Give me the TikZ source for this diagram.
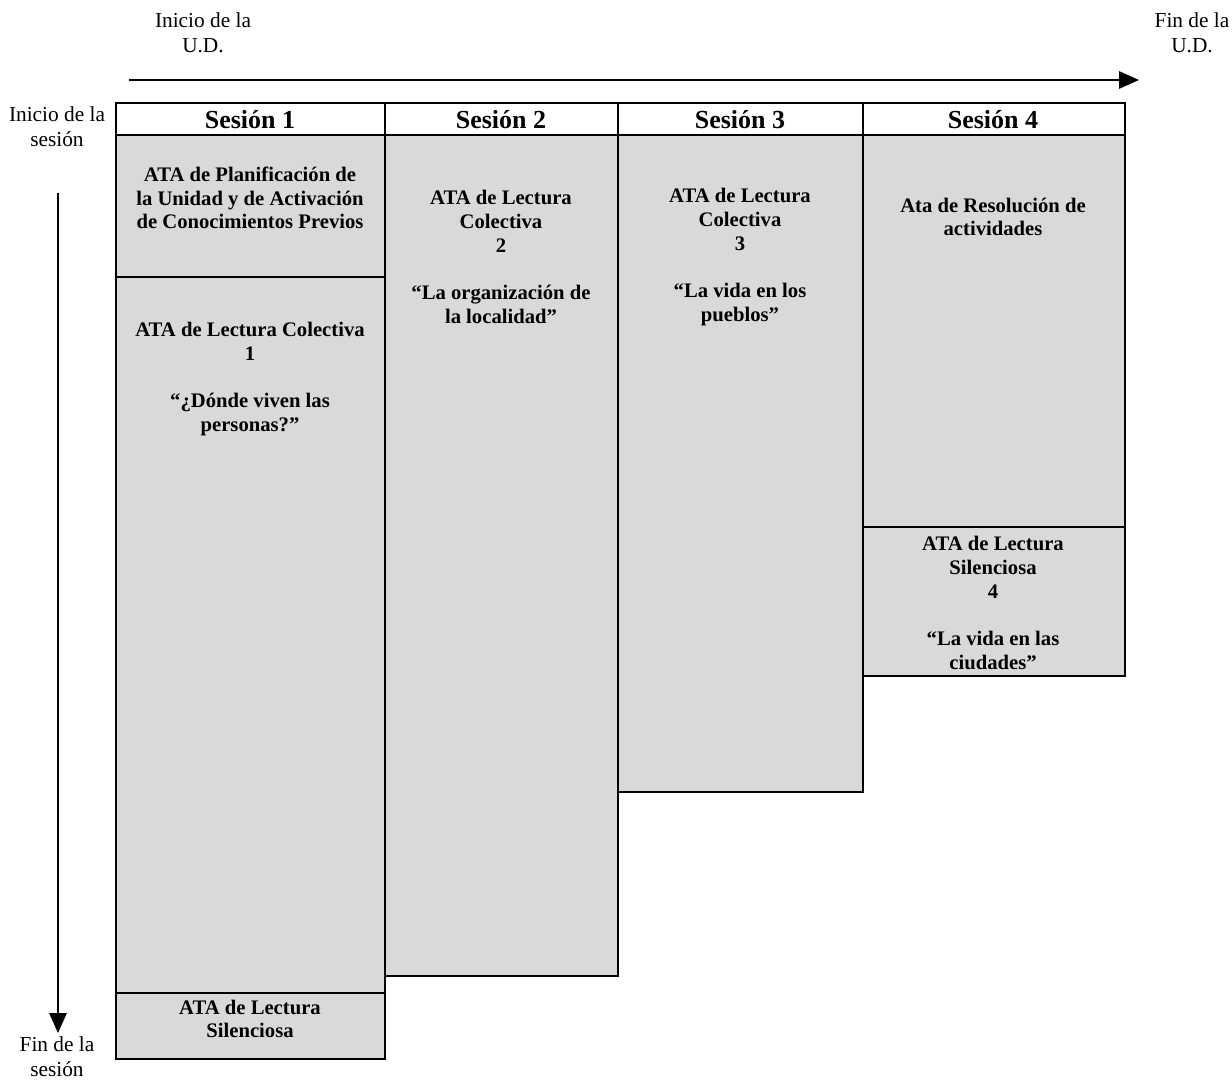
\documentclass[tikz,border=0pt]{standalone}
\usepackage{fontspec}
\setmainfont{Liberation Serif}
\usetikzlibrary{arrows.meta}
\tikzset{
  lbl/.style={align=center,font=\fontsize{16}{18.7}\selectfont,inner sep=0pt},
  hdr/.style={font=\fontsize{19.5}{22}\selectfont\bfseries,inner sep=0pt},
  ata/.style={align=center,font=\fontsize{15.5}{17.8}\selectfont\bfseries,inner sep=0pt},
  cell/.style={draw,line width=1.4pt,fill=gray!30},
  hcell/.style={draw,line width=1.4pt,fill=white},
  tl/.style={-{Triangle[length=15pt,width=13pt]},line width=1.5pt}
}

\begin{document}
\begin{tikzpicture}[x=0.75pt,y=-0.75pt]
\useasboundingbox[fill=white] (0,0) rectangle (1232,1080);

% time axes
\node[lbl] (ud0) at (203,33) {Inicio de la\\U.D.};
\node[lbl] (ud1) at (1192,33) {Fin de la\\U.D.};
\node[lbl] (se0) at (57,127) {Inicio de la\\sesión};
\node[lbl] (se1) at (57,1057) {Fin de la\\sesión};
\coordinate (h0) at (129,80);
\coordinate (h1) at (1139,80);
\coordinate (v0) at (58,193);
\coordinate (v1) at (58,1033);
\draw[tl] (h0) -- (h1);
\draw[tl] (v0) -- (v1);

% session columns
\draw[cell] (116,135) rectangle (385,277);
\draw[cell] (116,277) rectangle (385,993);
\draw[cell] (116,993) rectangle (385,1059);
\draw[cell] (385,135) rectangle (618,976);
\draw[cell] (618,135) rectangle (863,792);
\draw[cell] (863,135) rectangle (1125,527);
\draw[cell] (863,527) rectangle (1125,676);

% header row
\draw[hcell] (116,103) rectangle (385,135);
\draw[hcell] (385,103) rectangle (618,135);
\draw[hcell] (618,103) rectangle (863,135);
\draw[hcell] (863,103) rectangle (1125,135);
\node[hdr] (s1) at (250,120) {Sesión 1};
\node[hdr] (s2) at (501,120) {Sesión 2};
\node[hdr] (s3) at (740,120) {Sesión 3};
\node[hdr] (s4) at (993,120) {Sesión 4};

% activities
\node[ata] (plan) at (250,198) {ATA de Planificación de\\la Unidad y de Activación\\de Conocimientos Previos};
\node[ata] (lc1) at (250,379) {ATA de Lectura Colectiva\\1\\[17.8pt]“¿Dónde viven las\\personas?”};
\node[ata] (ls1) at (250,1019) {ATA de Lectura\\Silenciosa};
\node[ata] (lc2) at (501,257) {ATA de Lectura\\Colectiva\\2\\[17.8pt]“La organización de\\la localidad”};
\node[ata] (lc3) at (740,257) {ATA de Lectura\\Colectiva\\3\\[17.8pt]“La vida en los\\pueblos”};
\node[ata] (res) at (993,217) {Ata de Resolución de\\actividades};
\node[ata] (ls4) at (993,603) {ATA de Lectura\\Silenciosa\\4\\[17.8pt]“La vida en las\\ciudades”};
\end{tikzpicture}
\end{document}
